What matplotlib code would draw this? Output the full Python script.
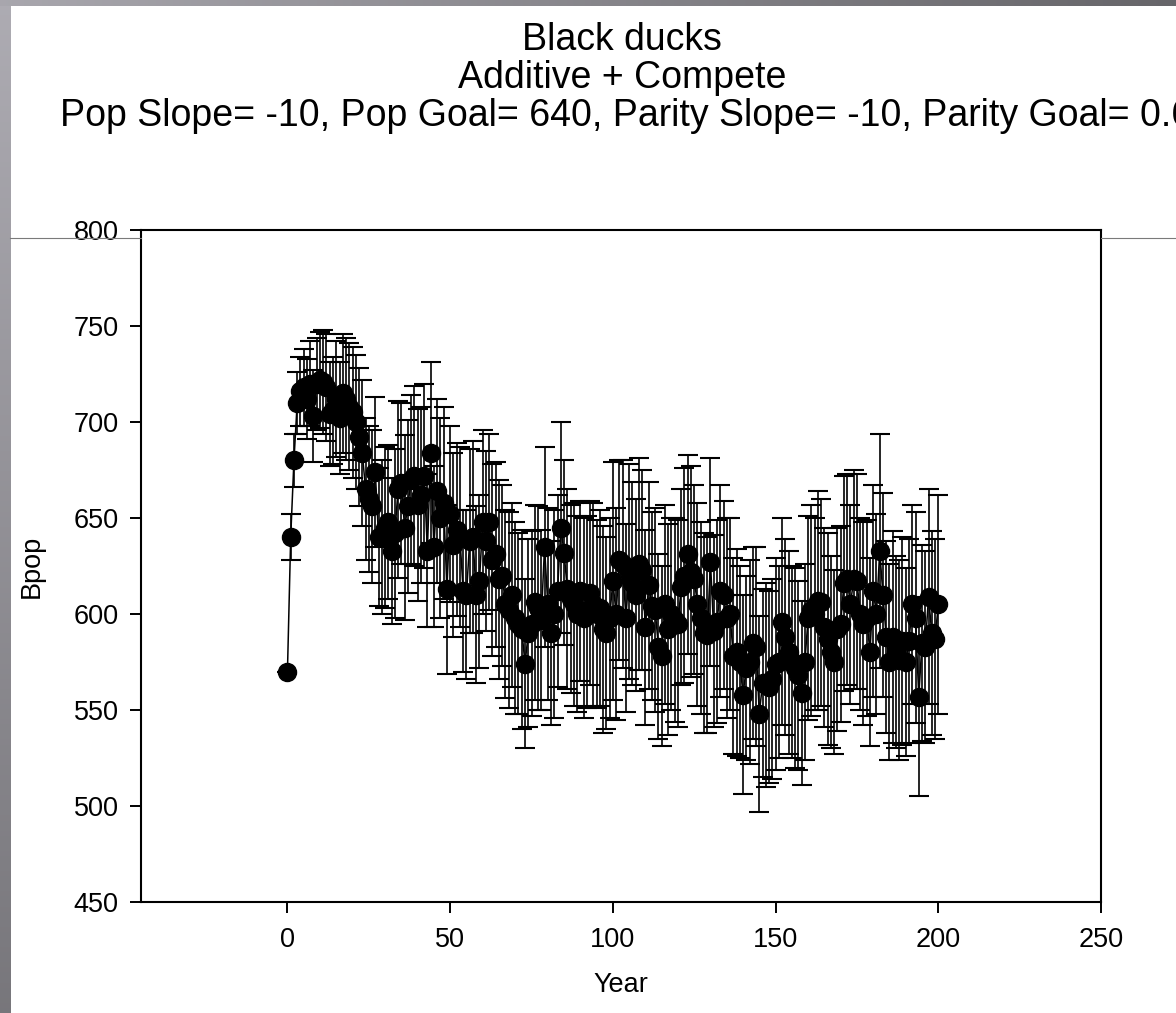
import numpy as np
import matplotlib
matplotlib.use("Agg")
import matplotlib.pyplot as plt
from matplotlib.lines import Line2D

plt.rcParams['font.family'] = ['Liberation Sans', 'DejaVu Sans']

# mean breeding population (Bpop) per simulated year, with its spread
year = list(range(0, 201))
bpop = [
    570, 640, 680, 710, 716, 718, 712, 720, 703, 720,
    722, 721, 718, 704, 706, 712, 702, 715, 712, 708,
    705, 700, 692, 684, 665, 660, 656, 674, 640, 640,
    645, 648, 633, 642, 665, 668, 645, 656, 670, 672,
    657, 662, 672, 633, 684, 635, 664, 650, 658, 613,
    652, 636, 644, 640, 612, 610, 638, 640, 610, 617,
    648, 638, 648, 628, 631, 618, 620, 605, 602, 610,
    598, 595, 592, 574, 590, 595, 606, 603, 597, 635,
    605, 590, 600, 612, 645, 632, 613, 608, 605, 600,
    612, 598, 601, 611, 605, 600, 603, 592, 590, 598,
    617, 600, 628, 626, 598, 622, 616, 610, 626, 623,
    593, 615, 604, 602, 583, 578, 605, 592, 600, 597,
    595, 614, 620, 631, 622, 618, 605, 598, 590, 589,
    627, 591, 596, 612, 610, 598, 600, 578, 580, 575,
    558, 572, 575, 585, 583, 548, 564, 563, 562, 566,
    574, 575, 596, 588, 580, 575, 572, 568, 559, 575,
    598, 602, 600, 607, 606, 593, 587, 580, 575, 592,
    595, 616, 618, 605, 618, 617, 600, 595, 598, 580,
    612, 600, 633, 610, 588, 575, 588, 580, 576, 586,
    575, 586, 605, 598, 557, 585, 583, 609, 590, 587,
    605,
]
bpop_sd = [
    0, 12, 14, 16, 18, 20, 21, 22, 24, 24,
    25, 27, 28, 27, 28, 30, 29, 31, 32, 33,
    34, 35, 36, 38, 37, 38, 40, 39, 36, 40,
    42, 40, 38, 44, 46, 42, 48, 45, 44, 47,
    50, 46, 48, 40, 47, 42, 48, 52, 50, 44,
    46, 48, 45, 47, 42, 44, 48, 50, 46, 45,
    48, 47, 46, 50, 48, 52, 47, 49, 51, 48,
    50, 47, 52, 44, 49, 48, 51, 53, 47, 52,
    50, 48, 54, 50, 55, 48, 52, 49, 53, 51,
    47, 52, 50, 48, 53, 49, 51, 54, 50, 52,
    62, 55, 52, 54, 49, 56, 53, 50, 55, 52,
    51, 54, 49, 53, 48, 47, 52, 55, 50, 53,
    54, 51, 56, 52, 55, 49, 53, 50, 52, 51,
    54, 50, 53, 55, 49, 52, 50, 51, 54, 50,
    52, 48, 53, 50, 52, 51, 49, 53, 50, 52,
    55, 50, 54, 51, 53, 50, 52, 49, 48, 51,
    53, 55, 50, 57, 54, 52, 55, 50, 48, 53,
    51, 56, 55, 52, 57, 56, 50, 53, 51, 49,
    55, 52, 61, 53, 50, 51, 55, 50, 52, 54,
    49, 53, 52, 55, 52, 51, 50, 56, 53, 52,
    57,
]
x_ticks = [0, 50, 100, 150, 200, 250]
y_ticks = [450, 500, 550, 600, 650, 700, 750, 800]

W, H = 1176, 1013
fig = plt.figure(figsize=(W / 100, H / 100), dpi=100)
fig.patch.set_facecolor('white')

# slide frame: grey gradient strips on the left and top edges
left_strip = fig.add_axes([0, 0, 10 / W, 1])
g = np.linspace(0.68, 0.47, 200)[:, None, None] * np.array([1.0, 0.99, 1.03])
left_strip.imshow(np.clip(g, 0, 1), aspect='auto')
left_strip.axis('off')
top_strip = fig.add_axes([0, 1 - 6 / H, 1, 6 / H])
g = np.linspace(0.66, 0.40, 400)[None, :, None] * np.array([1.0, 0.99, 1.03])
top_strip.imshow(np.clip(g, 0, 1), aspect='auto')
top_strip.axis('off')

# thin slide rule running behind the plot
yr = 1 - 238 / H
fig.add_artist(Line2D([10 / W, 141 / W], [yr, yr], transform=fig.transFigure,
                      color='#7a7a7a', lw=0.8))
fig.add_artist(Line2D([1101 / W, 1], [yr, yr], transform=fig.transFigure,
                      color='#7a7a7a', lw=0.8))

ax = fig.add_axes([141 / W, 1 - 902 / H, 960 / W, 672 / H])
ax.errorbar(year, bpop, yerr=bpop_sd, fmt='-o', color='black', lw=1.1,
            ms=13, elinewidth=1.2, capsize=7.5, capthick=1.5, zorder=3)

ax.set_xlim(-45, 250)
ax.set_ylim(450, 800)
ax.set_xticks(x_ticks)
ax.set_yticks(y_ticks)
ax.tick_params(axis='both', direction='out', length=8, width=1.4,
               labelsize=19.5, top=False, right=False)
ax.tick_params(axis='y', pad=8)
ax.tick_params(axis='x', pad=10)
for s in ax.spines.values():
    s.set_linewidth(1.5)

ax.set_xlabel('Year', fontsize=19.5)
ax.set_ylabel('Bpop', fontsize=19.5)
ax.xaxis.set_label_coords(0.5, -0.104)
ax.yaxis.set_label_coords(-0.1, 0.5)

fig.text(622 / W, 1 - 50 / H, 'Black ducks', ha='center', va='baseline', fontsize=27)
fig.text(622 / W, 1 - 88 / H, 'Additive + Compete', ha='center', va='baseline', fontsize=27)
# the parameter line is wider than the slide and runs off its right edge
fig.text(60 / W, 1 - 126 / H,
         'Pop Slope= -10, Pop Goal= 640, Parity Slope= -10, Parity Goal= 0.6',
         ha='left', va='baseline', fontsize=27)

fig.savefig('out.png', dpi=100)
